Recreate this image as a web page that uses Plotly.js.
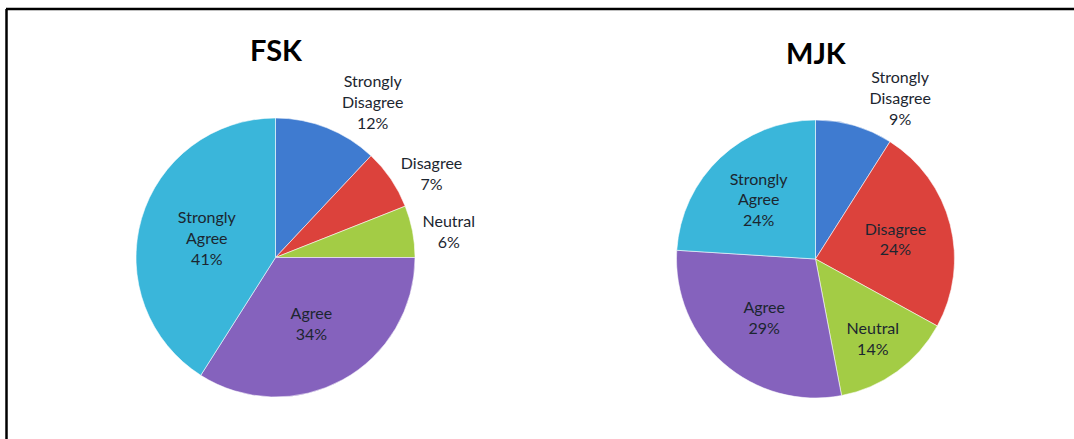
<!DOCTYPE html>
<html>
<head>
<meta charset="utf-8">
<script src="https://cdn.plot.ly/plotly-3.0.1.min.js"></script>
<style>
  html, body { margin: 0; padding: 0; background: #ffffff; }
  #chart { width: 1074px; height: 439px; }
</style>
</head>
<body>
<div id="chart"></div>
<script>
const categories = ["Strongly<br>Disagree", "Disagree", "Neutral", "Agree", "Strongly<br>Agree"];
const fskValues = [12, 7, 6, 34, 41];
const mjkValues = [9, 24, 14, 29, 24];
const chartTitles = ["FSK", "MJK"];
const sliceColors = ["#3f7bd0", "#dc423c", "#a3cc45", "#8562bd", "#3ab6da"];

const W = 1074, H = 439;
const font = "Lato, 'Open Sans', sans-serif";

function pieTrace(values, dom, positions) {
  return {
    type: "pie",
    labels: categories,
    values: values,
    sort: false,
    direction: "clockwise",
    rotation: 0,
    domain: dom,
    marker: { colors: sliceColors, line: { color: "rgba(255,255,255,0.55)", width: 1 } },
    texttemplate: "%{label}<br>%{percent:.0%}",
    textposition: positions,
    insidetextorientation: "horizontal",
    textfont: { family: font, size: 16, color: "#1c2630" },
    outsidetextfont: { family: font, size: 16, color: "#1c2630" },
    hoverinfo: "label+percent",
    showlegend: false
  };
}

const fskDomain = { x: [135 / W, 416 / W], y: [1 - 397 / H, 1 - 118 / H] };
const mjkDomain = { x: [676 / W, 955 / W], y: [1 - 398 / H, 1 - 120 / H] };

const data = [
  pieTrace(fskValues, fskDomain, ["outside", "outside", "outside", "inside", "inside"]),
  pieTrace(mjkValues, mjkDomain, ["outside", "inside", "inside", "inside", "inside"])
];

const layout = {
  width: W, height: H,
  margin: { l: 0, r: 0, t: 0, b: 0 },
  paper_bgcolor: "#ffffff",
  font: { family: font, color: "#1c2630" },
  annotations: [
    { text: "<b>" + chartTitles[0] + "</b>", xref: "paper", yref: "paper", x: 276 / W, y: 1 - 49 / H,
      yanchor: "middle", xanchor: "center",
      showarrow: false, font: { family: font, size: 29, color: "#000" } },
    { text: "<b>" + chartTitles[1] + "</b>", xref: "paper", yref: "paper", x: 816 / W, y: 1 - 53 / H,
      yanchor: "middle", xanchor: "center",
      showarrow: false, font: { family: font, size: 29, color: "#000" } }
  ],
  shapes: [
    { type: "line", xref: "paper", yref: "paper", x0: 6 / W, x1: 1, y0: 1 - 9 / H, y1: 1 - 9 / H,
      line: { color: "#000", width: 2.5 } },
    { type: "line", xref: "paper", yref: "paper", x0: 6.5 / W, x1: 6.5 / W, y0: 0, y1: 1 - 9 / H,
      line: { color: "#000", width: 2.5 } }
  ]
};

Plotly.newPlot("chart", data, layout, { displayModeBar: false, staticPlot: true });
</script>
</body>
</html>
